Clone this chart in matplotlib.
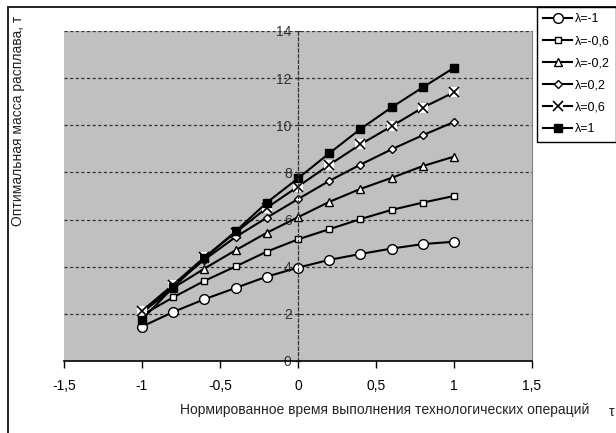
import matplotlib
matplotlib.use("Agg")
import matplotlib.pyplot as plt
from matplotlib.patches import Rectangle
from matplotlib.ticker import FuncFormatter

plt.rcParams['font.family'] = ['Liberation Sans', 'DejaVu Sans']

# данные
t = [-1, -0.8, -0.6, -0.4, -0.2, 0, 0.2, 0.4, 0.6, 0.8, 1]
m_l_m1 = [1.46, 2.08, 2.62, 3.10, 3.58, 3.96, 4.29, 4.54, 4.77, 4.96, 5.06]
m_l_m06 = [1.95, 2.70, 3.40, 4.01, 4.64, 5.16, 5.59, 6.02, 6.41, 6.72, 7.00]
m_l_m02 = [2.05, 3.10, 3.92, 4.70, 5.44, 6.10, 6.75, 7.30, 7.77, 8.27, 8.67]
m_l_02 = [2.10, 3.20, 4.30, 5.26, 6.08, 6.87, 7.64, 8.33, 8.98, 9.58, 10.14]
m_l_06 = [2.12, 3.24, 4.40, 5.45, 6.50, 7.40, 8.32, 9.19, 9.96, 10.75, 11.40]
m_l_1 = [1.76, 3.13, 4.37, 5.50, 6.72, 7.75, 8.81, 9.84, 10.76, 11.61, 12.44]
labels = ['λ=-1', 'λ=-0,6', 'λ=-0,2', 'λ=0,2', 'λ=0,6', 'λ=1']

fig = plt.figure(figsize=(6.16, 4.33), dpi=100)
ax = fig.add_axes([64/616, 1-361/433, (532-64)/616, (361-31)/433])
ax.set_facecolor('#c0c0c0')

lw = 1.5
h1, = ax.plot(t, m_l_m1, color='k', lw=lw, marker='o', ms=7, mfc='white', mec='k', mew=1)
h2, = ax.plot(t, m_l_m06, color='k', lw=lw, marker='s', ms=4.8, mfc='white', mec='k', mew=1)
h3, = ax.plot(t, m_l_m02, color='k', lw=lw, marker='^', ms=5.5, mfc='white', mec='k', mew=1)
h4, = ax.plot(t, m_l_02, color='k', lw=lw, marker='D', ms=4, mfc='white', mec='k', mew=1)
h5a, = ax.plot(t, m_l_06, color='k', lw=lw, marker='s', ms=7.5, mfc='white', mec='white', mew=0)
h5b, = ax.plot(t, m_l_06, ls='none', marker='x', ms=6.5, color='k', mew=1.2)
h6, = ax.plot(t, m_l_1, color='k', lw=lw, marker='s', ms=5.5, mfc='k', mec='k')

ax.set_xlim(-1.5, 1.5)
ax.set_ylim(0, 14)
ax.set_xticks([-1.5, -1, -0.5, 0, 0.5, 1, 1.5])
ax.set_yticks(range(0, 15, 2))
fmt = FuncFormatter(lambda v, p: ('%g' % v).replace('.', ','))
ax.xaxis.set_major_formatter(fmt)
ax.yaxis.set_major_formatter(fmt)

# горизонтальная сетка
for yv in range(2, 15, 2):
    ax.axhline(yv, color='#333333', lw=0.9, ls=(0, (2.5, 2)), zorder=1)

ax.spines['left'].set_position(('data', 0))
ax.spines['left'].set_linestyle((0, (2.5, 2)))
ax.spines['left'].set_color('#333333')
ax.spines['left'].set_linewidth(0.9)
ax.spines['top'].set_visible(False)
ax.spines['right'].set_color('#808080')
ax.spines['bottom'].set_linewidth(1.2)

ax.tick_params(axis='x', direction='out', length=5, width=1, labelsize=10, pad=8)
ax.tick_params(axis='y', direction='inout', length=5, width=0.8, colors='#333333',
               labelsize=10, labelcolor='#333333', pad=2)

fig.text(385/616, 1-410/433, 'Нормированное время выполнения технологических операций',
         ha='center', va='center', fontsize=10, color='#222222')
fig.text(18/616, 1-121/433, 'Оптимальная масса расплава, т', rotation=90,
         ha='center', va='center', fontsize=10, color='#222222')
fig.text(0.998, 1-412/433, 'τ', ha='right', va='center', fontsize=10, color='#222222')

# рамка диаграммы
fig.patches.append(Rectangle((8/616, -0.1), 1.0, 1-7/433+0.1, transform=fig.transFigure,
                             fill=False, edgecolor='#222222', lw=1.4))

leg = fig.legend([h1, h2, h3, h4, (h5a, h5b), h6], labels,
                 loc='upper left', bbox_to_anchor=(537/616, 1-7/433),
                 frameon=True, fancybox=False, edgecolor='k', framealpha=1,
                 fontsize=9, handlelength=2.3, handletextpad=0.2,
                 labelspacing=0.8, borderpad=0.5, borderaxespad=0)
leg.get_frame().set_linewidth(1.0)

fig.savefig('out.png', dpi=100)
